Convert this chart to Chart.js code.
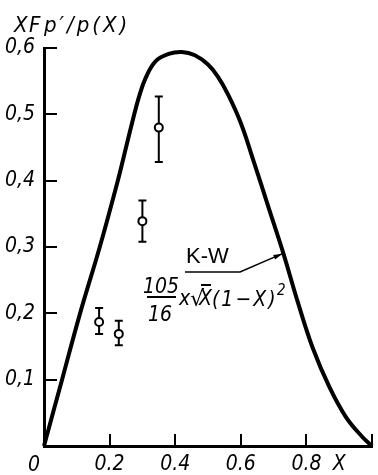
<!DOCTYPE html>
<html>
<head>
<meta charset="utf-8">
<script src="https://cdn.jsdelivr.net/npm/chart.js@4.4.1/dist/chart.umd.min.js"></script>
<style>
  html, body { margin: 0; padding: 0; background: #ffffff; }
  #wrap { width: 378px; height: 475px; position: relative; }
</style>
</head>
<body>
<div id="wrap"><canvas id="c" width="378" height="475"></canvas></div>
<script>
// Theoretical K-W curve
const curveX = [0, 0.055, 0.11, 0.17, 0.225, 0.25, 0.27, 0.29, 0.31, 0.34, 0.38, 0.42, 0.46, 0.50, 0.53, 0.56, 0.60, 0.64, 0.685, 0.73, 0.775, 0.82, 0.87, 0.92, 0.97, 1.0];
const curveY = [0, 0.10, 0.20, 0.30, 0.40, 0.45, 0.49, 0.527, 0.555, 0.58, 0.591, 0.594, 0.589, 0.575, 0.557, 0.531, 0.487, 0.428, 0.359, 0.29, 0.215, 0.147, 0.089, 0.044, 0.014, 0];

// Measured points with error bars
const obsX = [0.168, 0.228, 0.30, 0.35];
const obsY = [0.187, 0.169, 0.339, 0.48];
const obsLow = [0.169, 0.152, 0.308, 0.428];
const obsHigh = [0.208, 0.189, 0.37, 0.527];

// Ticks
const yTicks = [0, 0.1, 0.2, 0.3, 0.4, 0.5, 0.6];
const yTickLabels = ['', '0,1', '0,2', '0,3', '0,4', '0,5', '0,6'];
const xTicks = [0, 0.2, 0.4, 0.6, 0.8, 0.9, 1.0];
const xTickLabels = ['', '0.2', '0.4', '0.6', '0.8', 'X', ''];
const xTickMarks = [0.2, 0.4, 0.6, 0.8, 1.0];
const yTickMarks = [0.1, 0.2, 0.3, 0.4, 0.5, 0.6];

const yTitleA = "X";
const yTitleB = "F";
const yTitleC = "p\u2032/p(X)";
const curveLabel = "K-W";
const originLabel = "0";

const FONT = "'DejaVu Sans Condensed', 'DejaVu Sans', sans-serif";

const decorPlugin = {
  id: 'decor',
  beforeDatasetsDraw(chart) {
    const ctx = chart.ctx, xs = chart.scales.x, ys = chart.scales.y;
    ctx.save();
    ctx.strokeStyle = '#000';
    ctx.lineWidth = 2;
    for (let i = 0; i < obsX.length; i++) {
      const px = xs.getPixelForValue(obsX[i]);
      const pl = ys.getPixelForValue(obsLow[i]);
      const ph = ys.getPixelForValue(obsHigh[i]);
      ctx.beginPath();
      ctx.moveTo(px, pl); ctx.lineTo(px, ph);
      ctx.moveTo(px - 4, pl); ctx.lineTo(px + 4, pl);
      ctx.moveTo(px - 4, ph); ctx.lineTo(px + 4, ph);
      ctx.stroke();
    }
    ctx.restore();
  },
  afterDraw(chart) {
    const ctx = chart.ctx, xs = chart.scales.x, ys = chart.scales.y;
    const ca = chart.chartArea;
    ctx.save();
    ctx.strokeStyle = '#000';
    ctx.fillStyle = '#000';
    // inward ticks
    ctx.lineWidth = 2;
    yTickMarks.forEach(v => {
      const py = Math.round(ys.getPixelForValue(v));
      ctx.beginPath(); ctx.moveTo(ca.left, py); ctx.lineTo(ca.left + 13, py); ctx.stroke();
    });
    xTickMarks.forEach(v => {
      const px = Math.round(xs.getPixelForValue(v));
      ctx.beginPath(); ctx.moveTo(px, ca.bottom); ctx.lineTo(px, ca.bottom - 12); ctx.stroke();
    });
    // origin label
    ctx.font = 'italic 21px ' + FONT;
    ctx.textAlign = 'center';
    ctx.textBaseline = 'alphabetic';
    ctx.fillText(originLabel, xs.getPixelForValue(0) - 10, 471);
    // title
    ctx.textAlign = 'left';
    ctx.font = 'italic 22px ' + FONT;
    ctx.fillText(yTitleA, 14, 32);
    ctx.fillText(yTitleB, 29, 32);
    ctx.letterSpacing = '3px';
    ctx.fillText(yTitleC, 44, 32);
    ctx.letterSpacing = '0px';
    // K-W label
    ctx.font = '22px "Liberation Sans", Arial, sans-serif';
    ctx.fillText(curveLabel, 186, 263);
    // leader line with arrow
    const tipX = xs.getPixelForValue(curveX[19]) - 1;
    const tipY = ys.getPixelForValue(curveY[19]);
    ctx.lineWidth = 1.5;
    ctx.beginPath();
    ctx.moveTo(185, 272); ctx.lineTo(240, 272); ctx.lineTo(tipX, tipY);
    ctx.stroke();
    const ang = Math.atan2(tipY - 272, tipX - 240);
    ctx.beginPath();
    ctx.moveTo(tipX, tipY);
    ctx.lineTo(tipX - 9 * Math.cos(ang) + 2.5 * Math.sin(ang), tipY - 9 * Math.sin(ang) - 2.5 * Math.cos(ang));
    ctx.lineTo(tipX - 9 * Math.cos(ang) - 2.5 * Math.sin(ang), tipY - 9 * Math.sin(ang) + 2.5 * Math.cos(ang));
    ctx.closePath();
    ctx.fill();
    // formula
    ctx.font = 'italic 21px ' + FONT;
    ctx.textAlign = 'center';
    ctx.fillText('105', 161, 293);
    ctx.fillText('16', 160, 321);
    ctx.lineWidth = 2;
    ctx.beginPath(); ctx.moveTo(147, 297); ctx.lineTo(176, 297); ctx.stroke();
    ctx.textAlign = 'left';
    ctx.fillText('x', 179, 305);
    ctx.font = '22px "DejaVu Sans", sans-serif';
    ctx.fillText('\u221A', 190, 306);
    ctx.font = 'italic 21px ' + FONT;
    ctx.fillText('X', 199, 305);
    ctx.lineWidth = 2;
    ctx.beginPath(); ctx.moveTo(201, 285); ctx.lineTo(211, 285); ctx.stroke();
    ctx.letterSpacing = '2px';
    ctx.fillText('(1\u2212X)', 212, 306);
    ctx.letterSpacing = '0px';
    ctx.font = 'italic 15px ' + FONT;
    ctx.fillText('2', 277, 295);
    ctx.restore();
  }
};

const ctx = document.getElementById('c').getContext('2d');
new Chart(ctx, {
  type: 'scatter',
  data: {
    datasets: [
      {
        label: 'K-W',
        data: curveX.map((x, i) => ({ x: x, y: curveY[i] })),
        showLine: true,
        borderColor: '#000',
        borderWidth: 4,
        pointRadius: 0,
        tension: 0.4,
        clip: false
      },
      {
        label: 'data',
        data: obsX.map((x, i) => ({ x: x, y: obsY[i] })),
        showLine: false,
        pointRadius: 4,
        pointBorderWidth: 2,
        pointBorderColor: '#000',
        pointBackgroundColor: '#fff',
        clip: false
      }
    ]
  },
  options: {
    responsive: false,
    animation: false,
    devicePixelRatio: 1,
    layout: { padding: { top: 48, right: 2, left: 0, bottom: 0 } },
    plugins: { legend: { display: false }, tooltip: { enabled: false } },
    scales: {
      x: {
        type: 'linear', min: 0, max: 1,
        afterBuildTicks: s => { s.ticks = xTicks.map(v => ({ value: v })); },
        afterFit: s => { s.height = 29; },
        grid: { display: false, drawTicks: false },
        border: { display: true, color: '#000', width: 3 },
        ticks: {
          padding: 6,
          color: '#000',
          maxRotation: 0,
          autoSkip: false,
          font: { family: FONT, size: 21, style: 'italic' },
          callback: (v, i) => xTickLabels[i]
        }
      },
      y: {
        type: 'linear', min: 0, max: 0.6,
        afterBuildTicks: s => { s.ticks = yTicks.map(v => ({ value: v })); },
        afterFit: s => { s.width = 44; },
        grid: { display: false, drawTicks: false },
        border: { display: true, color: '#000', width: 3 },
        ticks: {
          padding: 9,
          color: '#000',
          autoSkip: false,
          font: { family: FONT, size: 21, style: 'italic' },
          callback: (v, i) => yTickLabels[i]
        }
      }
    }
  },
  plugins: [decorPlugin]
});
</script>
</body>
</html>
